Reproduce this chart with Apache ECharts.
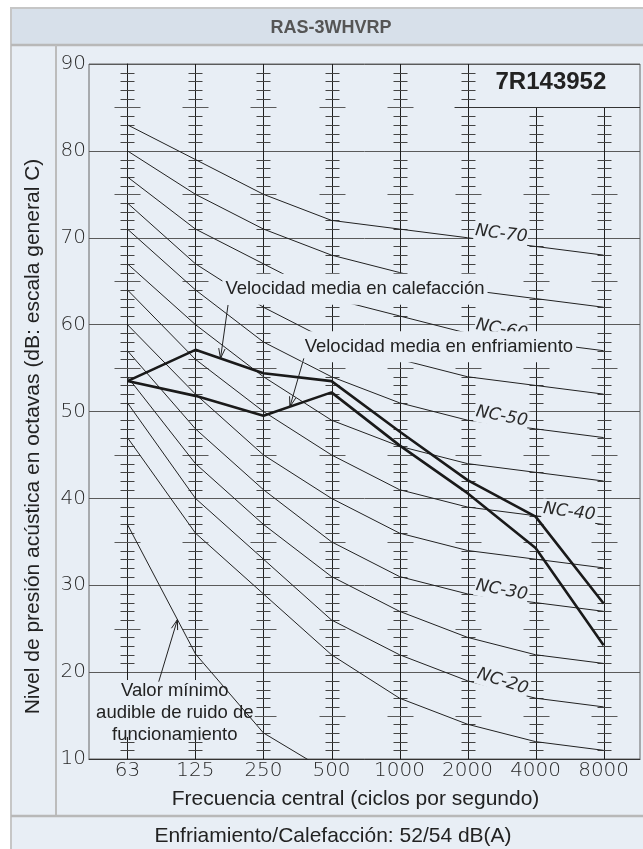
<!DOCTYPE html>
<html><head><meta charset="utf-8">
<script src="https://cdn.jsdelivr.net/npm/echarts@6/dist/echarts.min.js"></script>
<style>html,body{margin:0;padding:0;background:#fff;}#c{width:643px;height:849px;}</style>
</head><body><div id="c"></div>
<script>
// ---------- data ----------
const freqLabels = ['63', '125', '250', '500', '1000', '2000', '4000', '8000'];
const yTickValues = [10, 20, 30, 40, 50, 60, 70, 80, 90];
const heating = [53.5, 57.1, 54.4, 53.5, 47.7, 42.1, 37.9, 27.9];
const cooling = [53.5, 51.8, 49.5, 52.2, 46.1, 40.6, 34.3, 23.1];
const threshold = [37, 22.1, 13, 8.3];
const ncNames = ['NC-15', 'NC-20', 'NC-25', 'NC-30', 'NC-35', 'NC-40', 'NC-45', 'NC-50', 'NC-55', 'NC-60', 'NC-65', 'NC-70'];
const nc15 = [47, 36, 29, 22, 17, 14, 12, 11];
const nc20 = [51, 40, 33, 26, 22, 19, 17, 16];
const nc25 = [54, 44, 37, 31, 27, 24, 22, 21];
const nc30 = [57, 48, 41, 35, 31, 29, 28, 27];
const nc35 = [60, 52, 45, 40, 36, 34, 33, 32];
const nc40 = [64, 56, 50, 45, 41, 39, 38, 37];
const nc45 = [67, 60, 54, 49, 46, 44, 43, 42];
const nc50 = [71, 64, 58, 54, 51, 49, 48, 47];
const nc55 = [74, 67, 62, 58, 56, 54, 53, 52];
const nc60 = [77, 71, 67, 63, 61, 59, 58, 57];
const nc65 = [80, 75, 71, 68, 66, 64, 63, 62];
const nc70 = [83, 79, 75, 72, 71, 70, 69, 68];
const ncCurves = [nc15, nc20, nc25, nc30, nc35, nc40, nc45, nc50, nc55, nc60, nc65, nc70];
const ncLabelled = ['NC-70', 'NC-60', 'NC-50', 'NC-40', 'NC-30', 'NC-20'];
const ncLabelSegment = [5, 5, 5, 6, 5, 5];
const gridLineTop = [90, 90, 90, 90, 90, 90, 85, 85];
const drawingCode = '7R143952';
const modelName = 'RAS-3WHVRP';
const footerText = 'Enfriamiento/Calefacción: 52/54 dB(A)';
const yTitle = 'Nivel de presión acústica en octavas (dB: escala general C)';
const xTitle = 'Frecuencia central (ciclos por segundo)';
const annotTexts = ['Velocidad media en calefacción', 'Velocidad media en enfriamiento', 'Valor mínimo\naudible de ruido de\nfuncionamiento'];

// ---------- layout (data-space anchors) ----------
const annotAnchor = [[3.345, 64.06], [4.578, 57.46], [0.696, 15.3]];
const arrowTail = [[1.479, 62.26], [2.593, 56.12], [0.46, 18.9]];
const arrowHeadX = [1.368, 2.388, 0.735];
const arrowTarget = [heating, cooling, threshold];
const codeAnchor = [6.225, 87.87];

const BG = '#e8eef5';
const INK = '#222';
const CAD = '"DejaVu Sans"';
const SANS = '"Liberation Sans", Arial, sans-serif';

const chart = echarts.init(document.getElementById('c'), null, {renderer: 'canvas'});

function toXY(arr) { return arr.map((v, i) => [i, v]); }

function renderGridLine(params, api) {
  const i = api.value(0), top = api.value(1);
  const base = api.coord([i, 10]);
  const tp = api.coord([i, top]);
  const x = Math.round(base[0]) + 0.5;
  const children = [{type: 'line', shape: {x1: x, y1: base[1], x2: x, y2: tp[1]}, style: {stroke: '#1e1e1e', lineWidth: 1}}];
  for (let d = 11; d < top; d++) {
    if (d % 10 === 0) continue;
    const y = Math.round(api.coord([i, d])[1]) + 0.5;
    const h = d % 5 === 0 ? 13 : 7;
    children.push({type: 'line', shape: {x1: x - h, y1: y, x2: x + h, y2: y},
      style: {stroke: d % 5 === 0 ? '#5a5a5a' : '#444', lineWidth: 1}});
  }
  return {type: 'group', children: children};
}

const series = [{
  type: 'custom', name: 'grid', renderItem: renderGridLine, data: toXY(gridLineTop),
  encode: {x: 0, y: 1}, z: 1, silent: true, clip: false
}];
ncCurves.forEach((c, k) => series.push({
  type: 'line', name: ncNames[k], data: toXY(c), symbol: 'none', silent: true,
  lineStyle: {color: INK, width: 1}, z: 3
}));
series.push({type: 'line', name: 'Valor mínimo', data: toXY(threshold), symbol: 'none', silent: true,
  lineStyle: {color: INK, width: 1}, z: 5, clip: true});
series.push({type: 'line', name: 'Calefacción', data: toXY(heating), symbol: 'none', silent: true,
  lineStyle: {color: '#1a1a1a', width: 2.6}, z: 6});
series.push({type: 'line', name: 'Enfriamiento', data: toXY(cooling), symbol: 'none', silent: true,
  lineStyle: {color: '#1a1a1a', width: 2.6}, z: 6});

chart.setOption({
  animation: false,
  backgroundColor: 'transparent',
  grid: {left: 89, top: 64, right: 3, bottom: 90, show: true, borderColor: '#666', borderWidth: 1},
  xAxis: {
    type: 'value', min: -0.565, max: 7.535,
    axisLine: {show: true, lineStyle: {color: '#333', width: 1}},
    axisTick: {show: false},
    splitLine: {show: false},
    axisLabel: {customValues: freqLabels.map((_, i) => i), formatter: v => freqLabels[Math.round(v)],
      fontFamily: CAD, fontSize: 20, fontWeight: 200, color: '#2a2a2a', margin: 2},
    name: xTitle, nameLocation: 'middle', nameGap: 30,
    nameTextStyle: {fontFamily: SANS, fontSize: 21, color: INK, padding: [0, 18, 0, 0]}
  },
  yAxis: {
    type: 'value', min: 10, max: 90, interval: 10,
    axisLine: {show: true, lineStyle: {color: '#333', width: 1}},
    axisTick: {show: false},
    splitLine: {show: true, lineStyle: {color: '#5a5a5a', width: 1}},
    axisLabel: {customValues: yTickValues, fontFamily: CAD, fontSize: 20, fontWeight: 200, color: '#2a2a2a', margin: 3},
    name: yTitle, nameLocation: 'middle', nameGap: 45, nameRotate: 90,
    nameTextStyle: {fontFamily: SANS, fontSize: 21, color: INK, padding: [0, 50, 0, 0]}
  },
  series: series
});

function px(p) { return chart.convertToPixel({gridIndex: 0}, p); }
function interp(arr, x) {
  const i = Math.floor(x), f = x - i;
  return arr[i] + (arr[i + 1] - arr[i]) * f;
}
function arrow(p0, p1, z) {
  const dx = p1[0] - p0[0], dy = p1[1] - p0[1];
  const L = Math.hypot(dx, dy), ux = dx / L, uy = dy / L;
  const len = 10, w = 3.2;
  const bx = p1[0] - ux * len, by = p1[1] - uy * len;
  return [
    {type: 'line', shape: {x1: p0[0], y1: p0[1], x2: p1[0], y2: p1[1]}, style: {stroke: INK, lineWidth: 1}, z: z, silent: true},
    {type: 'polyline', shape: {points: [[bx - uy * w, by + ux * w], [p1[0], p1[1]], [bx + uy * w, by - ux * w]]},
      style: {stroke: INK, lineWidth: 1, fill: null}, z: z, silent: true}
  ];
}

const g = [];
// panel frame
g.push({type: 'rect', shape: {x: 11, y: 8, width: 700, height: 900}, style: {fill: BG, stroke: '#c6c6c6', lineWidth: 2}, z: -10, silent: true});
g.push({type: 'rect', shape: {x: 12, y: 9, width: 700, height: 36}, style: {fill: '#d7e0ea'}, z: -9, silent: true});
g.push({type: 'line', shape: {x1: 11, y1: 45, x2: 643, y2: 45}, style: {stroke: '#b8b8b8', lineWidth: 2.5}, z: -8, silent: true});
g.push({type: 'line', shape: {x1: 56, y1: 45, x2: 56, y2: 816}, style: {stroke: '#bcbcbc', lineWidth: 2}, z: -8, silent: true});
g.push({type: 'line', shape: {x1: 11, y1: 816, x2: 643, y2: 816}, style: {stroke: '#b8b8b8', lineWidth: 2.5}, z: -8, silent: true});
g.push({type: 'text', x: 331, y: 28, style: {text: modelName, font: 'bold 18px ' + SANS, fill: '#555', align: 'center', verticalAlign: 'middle'}, z: 10, silent: true});
g.push({type: 'text', x: 333, y: 836, style: {text: footerText, font: '21px ' + SANS, fill: INK, align: 'center', verticalAlign: 'middle'}, z: 10, silent: true});

// drawing-code box
const boxL = px([5, 85]);
const gridRight = px([7.535, 85]);
g.push({type: 'line', shape: {x1: boxL[0] - 13, y1: Math.round(boxL[1]) + 0.5, x2: gridRight[0], y2: Math.round(boxL[1]) + 0.5},
  style: {stroke: '#333', lineWidth: 1}, z: 2, silent: true});
const cp = px(codeAnchor);
g.push({type: 'text', x: cp[0], y: cp[1], style: {text: drawingCode, font: 'bold 24px ' + SANS, fill: INK, align: 'center', verticalAlign: 'middle'}, z: 4, silent: true});

// NC labels
ncLabelled.forEach((name, k) => {
  const curve = ncCurves[ncNames.indexOf(name)];
  const s = ncLabelSegment[k];
  const a0 = px([s - 1, curve[s - 1]]), a1 = px([s, curve[s]]), a2 = px([s + 1, curve[s + 1]]);
  const ang = (Math.atan2(a1[1] - a0[1], a1[0] - a0[0]) + Math.atan2(a2[1] - a1[1], a2[0] - a1[0])) / 2;
  const p = px([s + 0.48, interp(curve, s + 0.48)]);
  const off = 8;
  g.push({type: 'text', x: p[0] + Math.sin(ang) * off, y: p[1] - Math.cos(ang) * off, rotation: -ang,
    style: {text: name, font: 'italic 200 17px ' + CAD, fill: '#2a2a2a', align: 'center', verticalAlign: 'middle',
      backgroundColor: BG, padding: [0, 1, 3, 1]}, z: 4, silent: true});
});

// annotations
[0, 1].forEach(k => {
  const p = px(annotAnchor[k]);
  g.push({type: 'text', x: p[0], y: p[1], style: {text: annotTexts[k], font: '18.5px ' + SANS, fill: INK,
    align: 'center', verticalAlign: 'middle', backgroundColor: BG, padding: [6, 3]}, z: 5, silent: true});
});
const vp = px(annotAnchor[2]);
g.push({type: 'rect', shape: {x: vp[0] - 80, y: vp[1] - 33, width: 160, height: 57}, style: {fill: BG}, z: 4, silent: true});
g.push({type: 'text', x: vp[0], y: vp[1], style: {text: annotTexts[2], font: '18.5px ' + SANS, fill: INK,
  align: 'center', verticalAlign: 'middle', lineHeight: 21.7}, z: 4.5, silent: true});
[0, 1, 2].forEach(k => {
  const tail = px(arrowTail[k]);
  const hx = arrowHeadX[k];
  const head = px([hx, interp(arrowTarget[k], hx)]);
  arrow(tail, head, 7).forEach(e => g.push(e));
});

chart.setOption({graphic: {elements: g}});
</script></body></html>
